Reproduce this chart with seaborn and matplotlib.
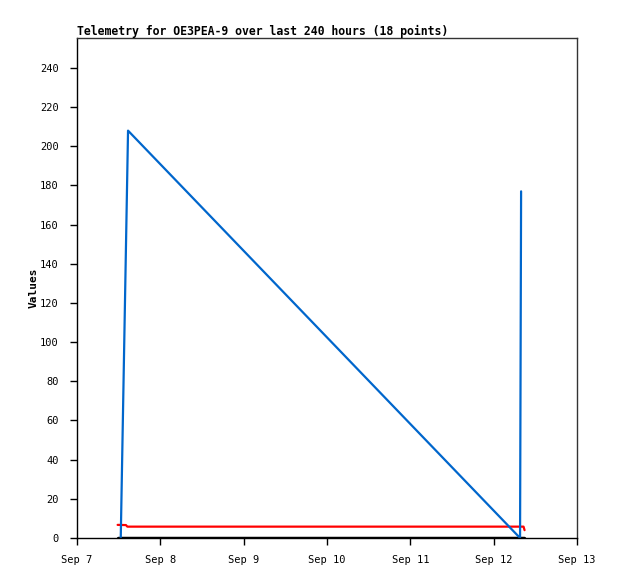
import matplotlib
matplotlib.use("Agg")
import matplotlib.pyplot as plt
import matplotlib.dates as mdates
import seaborn as sns
import pandas as pd

# ---- data (hours after Sep 7 00:00) ----
start = pd.Timestamp("2024-09-07 00:00")
blue_hours = [12.6, 14.7, 127.6, 127.9]
blue_vals = [0, 208, 0, 177]
red_hours = [11.7, 14.1, 14.5, 128.6, 128.9]
red_vals = [6.7, 6.6, 5.8, 5.8, 4.0]
black_hours = [11.8, 128.7]
black_vals = [0, 0]
title = "Telemetry for OE3PEA-9 over last 240 hours (18 points)"
ylabel = "Values"
x_tick_days = [7, 8, 9, 10, 11, 12, 13]
y_ticks = list(range(0, 241, 20))

def frame(hours, vals):
    return pd.DataFrame({"t": [start + pd.Timedelta(hours=h) for h in hours], "v": vals})

sns.set_style("white")
plt.rcParams["font.family"] = ["DejaVu Sans Mono", "DejaVu Sans"]

fig = plt.figure(figsize=(6.18, 5.79), dpi=100)
ax = fig.add_axes([77/618, 41/579, 500/618, 500/579])

sns.lineplot(data=frame(black_hours, black_vals), x="t", y="v", ax=ax, color="black", lw=2.5, sort=False)
sns.lineplot(data=frame(red_hours, red_vals), x="t", y="v", ax=ax, color="#ff0000", lw=1.6, sort=False)
sns.lineplot(data=frame(blue_hours, blue_vals), x="t", y="v", ax=ax, color="#0066cc", lw=1.6, sort=False)

ax.set_xlim(start + pd.Timedelta(days=0), start + pd.Timedelta(days=6))
ax.set_ylim(0, 255.3)
ax.set_xticks([pd.Timestamp(f"2024-09-{d:02d}") for d in x_tick_days])
ax.xaxis.set_major_formatter(mdates.DateFormatter("%b %-d"))
ax.set_yticks(y_ticks)
ax.tick_params(axis="both", direction="out", length=5, width=1, color="black",
               labelsize=7.5, labelcolor="black", bottom=True, left=True)
ax.tick_params(axis="x", pad=7)
ax.tick_params(axis="y", pad=8)
for s in ax.spines.values():
    s.set_color("#333333")
    s.set_linewidth(1)
ax.spines["left"].set_color("black")
ax.spines["bottom"].set_color("black")

ax.set_xlabel("")
ax.set_ylabel(ylabel, fontsize=8, fontweight="bold", labelpad=1, color="black")
ax.set_title(title, loc="left", fontsize=8.3, fontweight="bold", pad=2, color="black")

fig.savefig("out.png", dpi=100)
